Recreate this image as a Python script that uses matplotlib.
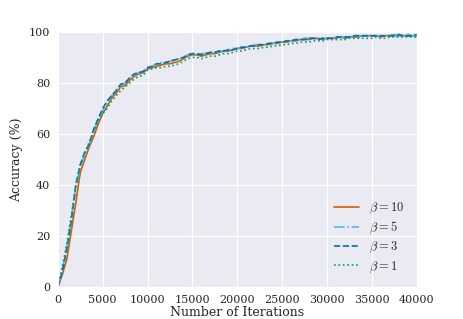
import numpy as np
import matplotlib
matplotlib.use("Agg")
import matplotlib.pyplot as plt
import seaborn as sns

# iterations, every 500 steps
iters = np.arange(0, 40001, 500)

acc_b10 = [0, 5, 11, 22, 33, 45, 50, 55, 59, 64, 68, 71, 74, 76, 78.5, 79, 81, 82.5, 83.5, 84,
           85.5, 86, 86.5, 87, 87.5, 87.5, 88, 88.5, 89.5, 90.5, 91, 91, 90.5, 91, 91.5, 91.5,
           92, 92.5, 92.5, 93, 93.5, 93.5, 94, 94.5, 94.5, 94.5, 95, 95, 95.5, 95.5, 96, 96,
           96.5, 96.5, 97, 97, 97, 97.5, 97.5, 97, 97.5, 97.5, 97.5, 98, 97.5, 98, 98, 98,
           98.5, 98.5, 98.5, 98.5, 98, 98.5, 98.5, 98.5, 98.5, 98.5, 98.5, 98.5, 98.5]
acc_b5 = [0, 7, 16, 27, 39, 47, 52, 56, 61, 66, 69, 72, 75, 77, 79, 80, 82, 83, 84, 84.5,
          86, 86.5, 87.5, 88, 88, 88.5, 89, 89.5, 90, 91, 91.5, 91, 91.5, 91.5, 92, 92,
          92.5, 92.5, 93, 93.5, 93.5, 94, 94, 94.5, 95, 95, 95, 95.5, 95.5, 96, 96, 96.5,
          96.5, 97, 97, 97.5, 97.5, 97.5, 97, 97.5, 97.5, 97.5, 98, 98, 98, 98, 98.5, 98.5,
          98.5, 98.5, 98.5, 98.5, 98.5, 98.5, 98.5, 99, 98.5, 98.5, 99, 98.5, 98.5]
acc_b3 = [0, 6, 15, 26, 40, 48, 53, 56, 62, 66, 70, 73, 75, 77, 79.5, 80, 82, 83.5, 84, 84.5,
          86, 86.5, 87.5, 87.5, 88, 88.5, 89, 89.5, 90, 91, 91.5, 91.5, 91, 91.5, 92, 92,
          92.5, 92.5, 93, 93, 93.5, 94, 94, 94.5, 94.5, 95, 95, 95.5, 95.5, 96, 96, 96.5,
          96.5, 97, 97, 97, 97.5, 97.5, 97, 97.5, 97.5, 97.5, 98, 98, 98, 98, 98.5, 98.5,
          98.5, 98.5, 98.5, 98.5, 98.5, 98.5, 98.5, 98.5, 99, 98.5, 98.5, 98.5, 99]
acc_b1 = [0, 8, 17, 28, 40, 48, 52, 57, 61, 65, 68, 70, 73, 75, 77, 78.5, 80, 81.5, 82.5, 83,
          85, 85.5, 86, 86, 86.5, 86.5, 87, 87.5, 88.5, 89.5, 90, 90, 89.5, 90, 90.5, 90.5,
          91, 91.5, 91.5, 92, 92.5, 92.5, 93, 93.5, 93.5, 93.5, 94, 94, 94.5, 94.5, 95, 95,
          95.5, 95.5, 96, 96, 96, 96.5, 96.5, 96.5, 97, 97, 97, 97, 97, 97.5, 97.5, 97.5,
          97.5, 97.5, 97.5, 98, 97.5, 97.5, 98, 98, 98, 98, 98, 98, 98]

sns.set_style("darkgrid")
plt.rcParams['font.family'] = 'DejaVu Serif'
plt.rcParams['mathtext.fontset'] = 'cm'

fig, ax = plt.subplots(figsize=(4.63, 3.19), dpi=100)
ax.plot(iters, acc_b10, color='#D55E00', lw=1.2, ls='-', label=r'$\beta=10$')
ax.plot(iters, acc_b5, color='#56B4E9', lw=1.2, ls='-.', label=r'$\beta=5$')
ax.plot(iters, acc_b3, color='#0072B2', lw=1.2, ls='--', label=r'$\beta=3$')
ax.plot(iters, acc_b1, color='#009E73', lw=1.2, ls=':', label=r'$\beta=1$')

ax.set_xlim(0, 40000)
ax.set_ylim(0, 100)
ax.set_xlabel('Number of Iterations', fontsize=9, labelpad=1)
ax.set_ylabel('Accuracy (%)', fontsize=9, labelpad=4)
ax.tick_params(labelsize=8, pad=2)
ax.legend(loc='lower right', fontsize=9, frameon=False, labelspacing=0.3,
          handlelength=2.0, borderaxespad=0.6)

plt.subplots_adjust(left=0.125, right=0.9, bottom=0.1, top=0.9)
plt.savefig('out.png', dpi=100)
